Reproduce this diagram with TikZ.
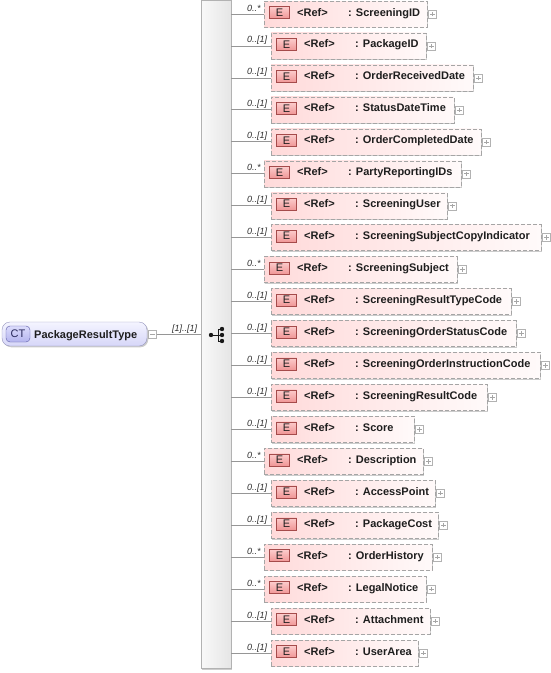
\documentclass[tikz,border=0pt]{standalone}
\usepackage{fontspec}
\setmainfont{Liberation Sans}
\usetikzlibrary{shadows,calc}
\definecolor{pinkL}{RGB}{255,218,218}
\definecolor{pinkR}{RGB}{255,250,250}
\definecolor{eFillT}{RGB}{252,204,204}
\definecolor{eFillB}{RGB}{240,150,150}
\definecolor{eLine}{RGB}{165,75,75}
\definecolor{boxLine}{RGB}{165,165,165}
\definecolor{ctT}{RGB}{244,244,255}
\definecolor{ctB}{RGB}{214,214,248}
\definecolor{ctLine}{RGB}{150,150,190}
\definecolor{ctbT}{RGB}{220,220,252}
\definecolor{ctbB}{RGB}{180,180,238}
\definecolor{ctbLine}{RGB}{90,90,165}
\definecolor{multC}{RGB}{45,45,45}
\definecolor{conn}{RGB}{150,150,150}
\definecolor{txtC}{RGB}{30,30,30}
\tikzset{
  ebox/.style={draw=boxLine, dash pattern=on 4pt off 2pt, left color=pinkL, right color=pinkR,
    minimum height=26pt, inner sep=0pt,
    drop shadow={shadow xshift=1.3pt, shadow yshift=-1.3pt, fill=gray!40, opacity=1}},
  ebadge/.style={draw=eLine, top color=eFillT, bottom color=eFillB, minimum width=20pt,
    minimum height=12pt, inner sep=0pt, font=\fontsize{11}{12}\selectfont, text=txtC},
  etext/.style={inner sep=0pt, font=\fontsize{11}{12}\selectfont\bfseries, text=txtC},
  mult/.style={inner sep=0pt, font=\fontsize{9}{10}\selectfont\itshape, text=multC},
  iconbox/.style={draw=gray!60, fill=white, minimum size=8pt, inner sep=0pt},
  connector/.style={draw=conn, line width=0.8pt},
  seqbar/.style={draw=gray!60, left color=gray!5, right color=gray!20, minimum width=30pt,
    minimum height=668pt, inner sep=0pt,
    drop shadow={shadow xshift=1.3pt, shadow yshift=-1.3pt, fill=gray!40, opacity=1}},
  ctbox/.style={draw=ctLine, top color=ctT, bottom color=ctB, rounded corners=8pt,
    minimum width=145pt, minimum height=24pt, inner sep=0pt,
    drop shadow={shadow xshift=1.3pt, shadow yshift=-1.3pt, fill=gray!40, opacity=1}},
  ctbadge/.style={draw=ctbLine, top color=ctbT, bottom color=ctbB, rounded corners=4pt,
    minimum width=24pt, minimum height=16pt, inner sep=0pt,
    font=\fontsize{11}{12}\selectfont, text={rgb,255:red,40;green,40;blue,90}},
}
\begin{document}
\begin{tikzpicture}[x=1pt,y=-1pt]
\useasboundingbox (0,0) rectangle (550,673);
% sequence bar
\node[seqbar] (seq) at (216,334.5) {};
\coordinate (sc) at (216,335);
\draw[gray!20!black, line width=0.8pt] ($(sc)+(-5,0)$) -- ($(sc)+(2,0)$)
  ($(sc)+(2,-6)$) -- ($(sc)+(2,6)$)
  ($(sc)+(2,-6)$) -- ($(sc)+(6,-6)$)
  ($(sc)+(2,0)$) -- ($(sc)+(6,0)$)
  ($(sc)+(2,6)$) -- ($(sc)+(6,6)$);
\fill[gray!20!black] ($(sc)+(-5,0)$) circle (2.2pt)
  ($(sc)+(6,-6)$) circle (2.2pt) ($(sc)+(6,0)$) circle (2.2pt) ($(sc)+(6,6)$) circle (2.2pt);
% complex type
\node[ctbox] (ct) at (74.5,334) {};
\node[ctbadge] (ctb) at (18,334) {CT};
\node[etext, anchor=base west] (ctname) at (34,338) {PackageResultType};
\node[iconbox] (minus) at (152.5,334.5) {};
\draw[gray!70, line width=0.6pt] ([xshift=-2.2pt]minus.center) -- ([xshift=2.2pt]minus.center);
\draw[connector] (minus.east) -- (minus.east -| seq.west);
\node[mult, anchor=base west] (ctm) at (172,331) {[1]..[1]};
% elements
\foreach \i/\nm/\st/\r in {
  1/ScreeningID/1/427, 2/PackageID/0/426, 3/OrderReceivedDate/0/473,
  4/StatusDateTime/0/454, 5/OrderCompletedDate/0/481, 6/PartyReportingIDs/1/461,
  7/ScreeningUser/0/447, 8/ScreeningSubjectCopyIndicator/0/541, 9/ScreeningSubject/1/457,
  10/ScreeningResultTypeCode/0/511, 11/ScreeningOrderStatusCode/0/516,
  12/ScreeningOrderInstructionCode/0/540, 13/ScreeningResultCode/0/487,
  14/Score/0/414, 15/Description/1/423, 16/AccessPoint/0/435, 17/PackageCost/0/438,
  18/OrderHistory/1/432, 19/LegalNotice/1/426, 20/Attachment/0/430, 21/UserArea/0/418}{
  \pgfmathsetmacro\c{14+31.95*(\i-1)}
  \pgfmathsetmacro\l{\st==1 ? 264 : 271}
  \pgfmathsetmacro\w{\r-\l}
  \pgfmathsetmacro\cx{(\r+\l)/2}
  \node[ebox, minimum width=\w pt] (b\i) at (\cx,\c) {};
  \node[ebadge] (e\i) at (\l+15.5,\c-1.5) {E};
  \node[etext, anchor=base west] (f\i) at (\l+33,\c+2) {<Ref>};
  \node[etext, anchor=base west] (n\i) at (\l+84,\c+2) {: \nm};
  \node[iconbox] (p\i) at (\r+5.5,\c) {};
  \draw[gray!70, line width=0.6pt] ([xshift=-2.2pt]p\i.center) -- ([xshift=2.2pt]p\i.center)
    ([yshift=-2.2pt]p\i.center) -- ([yshift=2.2pt]p\i.center);
  \draw[connector] (seq.east |- b\i.west) -- (b\i.west);
  \node[mult, anchor=base west] (m\i) at (247,\c-3) {\ifnum\st=1\relax 0..*\else 0..[1]\fi};
}
\end{tikzpicture}
\end{document}
